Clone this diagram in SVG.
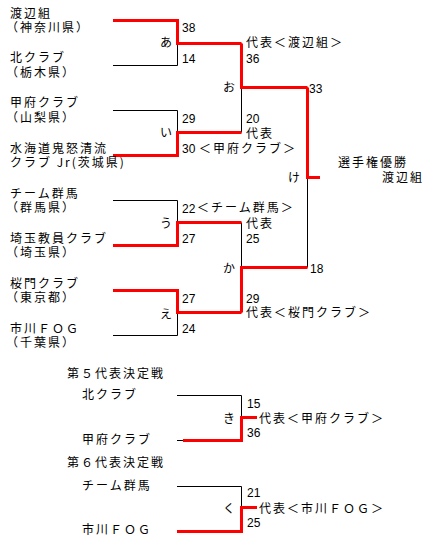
<svg xmlns="http://www.w3.org/2000/svg" width="439" height="544" viewBox="0 0 439 544">
<style>
.j{font-family:"Noto Sans CJK JP","Noto Sans CJK SC",sans-serif;font-size:12px;letter-spacing:2px;fill:#000}
.n{font-family:"Liberation Sans",Arial,sans-serif;font-size:12px;fill:#000}
.b{fill:none;stroke:#000;stroke-width:1}
.r{fill:none;stroke:#f00;stroke-width:3;stroke-linejoin:miter;stroke-linecap:butt}
</style>
<rect width="439" height="544" fill="#fff"/>
<g id="connectors">
<path class="b" d="M113,20.5H177.5V65.5H113"/>
<path class="b" d="M113,110.5H177.5V155.5H113"/>
<path class="b" d="M113,200.5H177.5V245.5H113"/>
<path class="b" d="M113,290.5H177.5V335.5H113"/>
<path class="b" d="M241.5,43.5V132.5"/>
<path class="b" d="M241.5,222.5V312.5"/>
<path class="b" d="M307.5,87.5V267.5"/>
<path class="b" d="M177,395.5H241.5V440.5H177"/>
<path class="b" d="M177,486.5H241.5V531.5H177"/>
<path class="r" d="M113,20.5H177.5V43.5H241.5"/>
<path class="r" d="M113,155.5H177.5V132.5H241.5"/>
<path class="r" d="M241.5,43.5V87.5H307.5"/>
<path class="r" d="M113,245.5H177.5V222.5H241.5"/>
<path class="r" d="M113,290.5H177.5V312.5H241.5"/>
<path class="r" d="M241.5,312.5V267.5H307.5"/>
<path class="r" d="M307.5,87.5V177.5H320"/>
<path class="r" d="M183,440.5H241.5V417.5H257"/>
<path class="r" d="M177,531.5H241.5V507.5H257"/>
</g>
<g id="team-watanabe"><text class="j" x="10" y="18">渡辺組</text><text class="j" x="6" y="32">（神奈川県）</text></g>
<g id="team-kita"><text class="j" x="10" y="62">北クラブ</text><text class="j" x="6" y="77">（栃木県）</text></g>
<g id="team-kofu"><text class="j" x="10" y="107">甲府クラブ</text><text class="j" x="6" y="122">（山梨県）</text></g>
<g id="team-mitsukaido"><text class="j" x="10" y="153">水海道鬼怒清流</text><text class="j" x="10" y="167">クラブ Jr(茨城県)</text></g>
<g id="team-gunma"><text class="j" x="10" y="198">チーム群馬</text><text class="j" x="6" y="212">（群馬県）</text></g>
<g id="team-saitama"><text class="j" x="10" y="243">埼玉教員クラブ</text><text class="j" x="6" y="257">（埼玉県）</text></g>
<g id="team-oumon"><text class="j" x="10" y="288">桜門クラブ</text><text class="j" x="6" y="302">（東京都）</text></g>
<g id="team-ichikawa"><text class="j" x="10" y="333">市川ＦＯＧ</text><text class="j" x="6" y="347">（千葉県）</text></g>
<g id="match-a"><text class="j" x="160" y="47">あ</text><text class="n" x="182" y="32">38</text><text class="n" x="182" y="63">14</text></g>
<g id="match-i"><text class="j" x="160" y="137">い</text><text class="n" x="182" y="123">29</text><text class="n" x="182" y="153">30</text></g>
<g id="match-u"><text class="j" x="160" y="228">う</text><text class="n" x="182" y="213">22</text><text class="n" x="182" y="243">27</text></g>
<g id="match-e"><text class="j" x="160" y="319">え</text><text class="n" x="182" y="303">27</text><text class="n" x="182" y="333">24</text></g>
<g id="match-o"><text class="j" x="223" y="92">お</text><text class="j" x="246" y="47">代表＜渡辺組＞</text><text class="n" x="246" y="63">36</text><text class="n" x="246" y="123">20</text><text class="j" x="246" y="138">代表</text><text class="j" x="199" y="153">＜甲府クラブ＞</text></g>
<g id="match-ka"><text class="j" x="223" y="273">か</text><text class="j" x="197" y="212">＜チーム群馬＞</text><text class="j" x="246" y="228">代表</text><text class="n" x="246" y="243">25</text><text class="n" x="246" y="303">29</text><text class="j" x="246" y="317">代表＜桜門クラブ＞</text></g>
<g id="match-ke"><text class="j" x="288" y="182">け</text><text class="n" x="309" y="93">33</text><text class="n" x="310" y="273">18</text><text class="j" x="338" y="167">選手権優勝</text><text class="j" x="382" y="182">渡辺組</text></g>
<g id="playoff-5"><text class="j" x="67" y="378">第５代表決定戦</text><text class="j" x="82" y="399">北クラブ</text><text class="j" x="82" y="444">甲府クラブ</text><text class="j" x="223" y="423">き</text><text class="n" x="247" y="408">15</text><text class="n" x="247" y="437">36</text><text class="j" x="259" y="423">代表＜甲府クラブ＞</text></g>
<g id="playoff-6"><text class="j" x="67" y="467">第６代表決定戦</text><text class="j" x="82" y="490">チーム群馬</text><text class="j" x="82" y="534">市川ＦＯＧ</text><text class="j" x="223" y="513">く</text><text class="n" x="247" y="497">21</text><text class="n" x="247" y="527">25</text><text class="j" x="259" y="513">代表＜市川ＦＯＧ＞</text></g>
</svg>
